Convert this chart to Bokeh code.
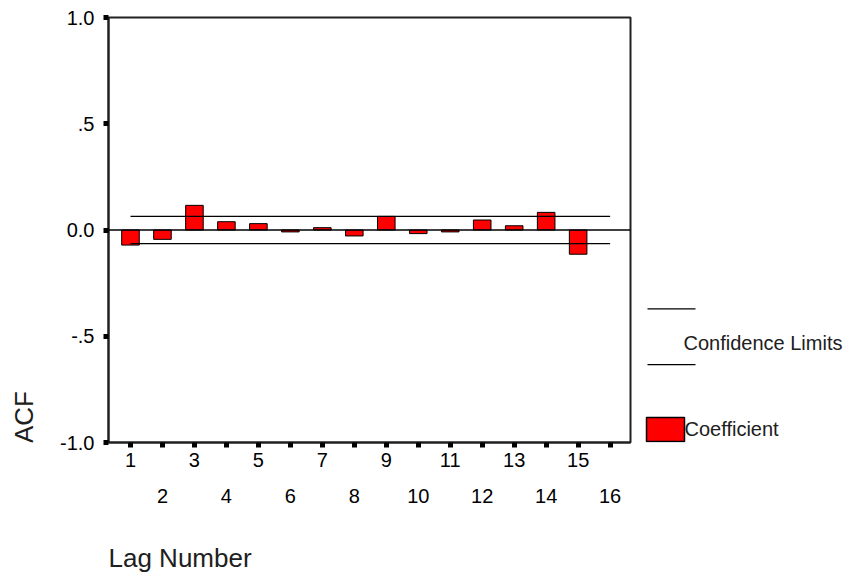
import math
from bokeh.plotting import figure
from bokeh.models import (Range1d, FixedTicker, LinearAxis, Span, Title,
                          ColumnDataSource)
from bokeh.layouts import row
from bokeh.embed import file_html
from bokeh.resources import INLINE
from bokeh.core.properties import value

# ---------------- data ----------------
lags = list(range(1, 17))                       # lag categories on the axis
bar_lags = list(range(1, 16))                   # lags with a visible coefficient
acf = [-0.071, -0.044, 0.116, 0.039, 0.030, -0.009, 0.011, -0.028,
       0.064, -0.017, -0.009, 0.047, 0.020, 0.083, -0.114]
conf_limit = 0.064
y_ticks = [-1.0, -0.5, 0.0, 0.5, 1.0]
y_tick_labels = ["-1.0", "-.5", "0.0", ".5", "1.0"]
odd_lags = [k for k in lags if k % 2 == 1]
even_lags = [k for k in lags if k % 2 == 0]

FONT = "Liberation Sans"
TICK_SIZE = "20px"
TITLE_SIZE = "26px"
AXIS_COL = "#202020"
TEXT_COL = "#202020"

H = 575
FRAME_TOP = 17
FRAME_BOTTOM = 443

# ---------------- main chart ----------------
p = figure(width=595, height=H, output_backend="svg", toolbar_location=None,
           x_range=Range1d(0.3125, 16.6375), y_range=Range1d(-1.0, 1.0),
           min_border_left=68, min_border_right=5, min_border_top=FRAME_TOP,
           min_border_bottom=H - FRAME_BOTTOM)
p.grid.visible = False
p.background_fill_color = "white"
p.border_fill_color = "white"
p.outline_line_color = AXIS_COL
p.outline_line_width = 2

# y axis
ya = p.yaxis[0]
ya.ticker = FixedTicker(ticks=y_ticks)
ya.major_label_overrides = {t: s for t, s in zip(y_ticks, y_tick_labels)}
ya.minor_tick_line_color = None
ya.major_tick_in = 0
ya.major_tick_out = 5
ya.major_tick_line_width = 5
ya.major_tick_line_color = "black"
ya.axis_line_color = AXIS_COL
ya.axis_line_width = 2
ya.major_label_standoff = 9
ya.major_label_text_font = FONT
ya.major_label_text_font_size = TICK_SIZE
ya.major_label_text_color = "black"

# x axis (tick marks + odd labels)
xa = p.xaxis[0]
xa.ticker = FixedTicker(ticks=lags)
xa.major_label_overrides = {k: (str(k) if k % 2 == 1 else "") for k in lags}
xa.minor_tick_line_color = None
xa.major_tick_in = 0
xa.major_tick_out = 5
xa.major_tick_line_width = 5
xa.major_tick_line_color = "black"
xa.axis_line_color = AXIS_COL
xa.axis_line_width = 2
xa.major_label_standoff = 5
xa.major_label_text_font = FONT
xa.major_label_text_font_size = TICK_SIZE
xa.major_label_text_color = "black"

# second row of x labels (even lags)
xa2 = LinearAxis(ticker=FixedTicker(ticks=even_lags))
xa2.major_label_overrides = {k: str(k) for k in even_lags}
xa2.axis_line_color = None
xa2.major_tick_line_color = None
xa2.minor_tick_line_color = None
xa2.major_tick_in = 0
xa2.major_tick_out = 0
xa2.major_label_standoff = 19
xa2.major_label_text_font = FONT
xa2.major_label_text_font_size = TICK_SIZE
xa2.major_label_text_color = "black"
p.add_layout(xa2, "below")

# spacer + x-axis title (left-aligned with the frame, SPSS style)
p.add_layout(Title(text=" ", standoff=20, text_font=FONT,
                   text_font_size="10px"), "below")
p.add_layout(Title(text="Lag Number", align="left", standoff=5,
                   text_font=FONT, text_font_size=TITLE_SIZE,
                   text_font_style="normal", text_color=TEXT_COL), "below")

# bars
src = ColumnDataSource(dict(x=bar_lags, top=acf))
p.vbar(x="x", top="top", bottom=0, width=0.55, source=src,
       fill_color="#FF0000", line_color="black", line_width=1)

# zero line
p.add_layout(Span(location=0, dimension="width", line_color="black",
                  line_width=1.5))

# confidence limits
p.line(x=[lags[0], lags[-1]], y=[conf_limit, conf_limit],
       line_color="black", line_width=1.3)
p.line(x=[lags[0], lags[-1]], y=[-conf_limit, -conf_limit],
       line_color="black", line_width=1.3)


def side_panel(width):
    f = figure(width=width, height=H, output_backend="svg",
               toolbar_location=None, x_range=Range1d(0, width),
               y_range=Range1d(FRAME_BOTTOM, FRAME_TOP),
               min_border_left=0, min_border_right=0,
               min_border_top=FRAME_TOP, min_border_bottom=H - FRAME_BOTTOM,
               x_axis_location=None, y_axis_location=None)
    f.grid.visible = False
    f.outline_line_color = None
    f.background_fill_color = "white"
    f.border_fill_color = "white"
    return f


# ---------------- y-axis title panel ----------------
left = side_panel(40)
left.text(x=[23], y=[417.5], text=["ACF"], angle=math.pi / 2,
          text_align="center", text_baseline="middle",
          text_font=value(FONT), text_font_size=value(TITLE_SIZE),
          text_color=TEXT_COL)

# ---------------- legend panel ----------------
leg = side_panel(208)
leg.segment(x0=[12, 12], y0=[309, 365], x1=[60, 60], y1=[309, 365],
            line_color="black", line_width=1.3)
leg.text(x=[48], y=[343], text=["Confidence Limits"], text_align="left",
         text_baseline="middle", text_font=value(FONT),
         text_font_size=value("20px"), text_color=TEXT_COL)
leg.quad(left=[11], right=[49], top=[418], bottom=[442],
         fill_color="#FF0000", line_color="black", line_width=1.5)
leg.text(x=[49], y=[429], text=["Coefficient"], text_align="left",
         text_baseline="middle", text_font=value(FONT),
         text_font_size=value("20px"), text_color=TEXT_COL)

layout = row(left, p, leg)
open("out.html", "w").write(file_html(layout, INLINE))
